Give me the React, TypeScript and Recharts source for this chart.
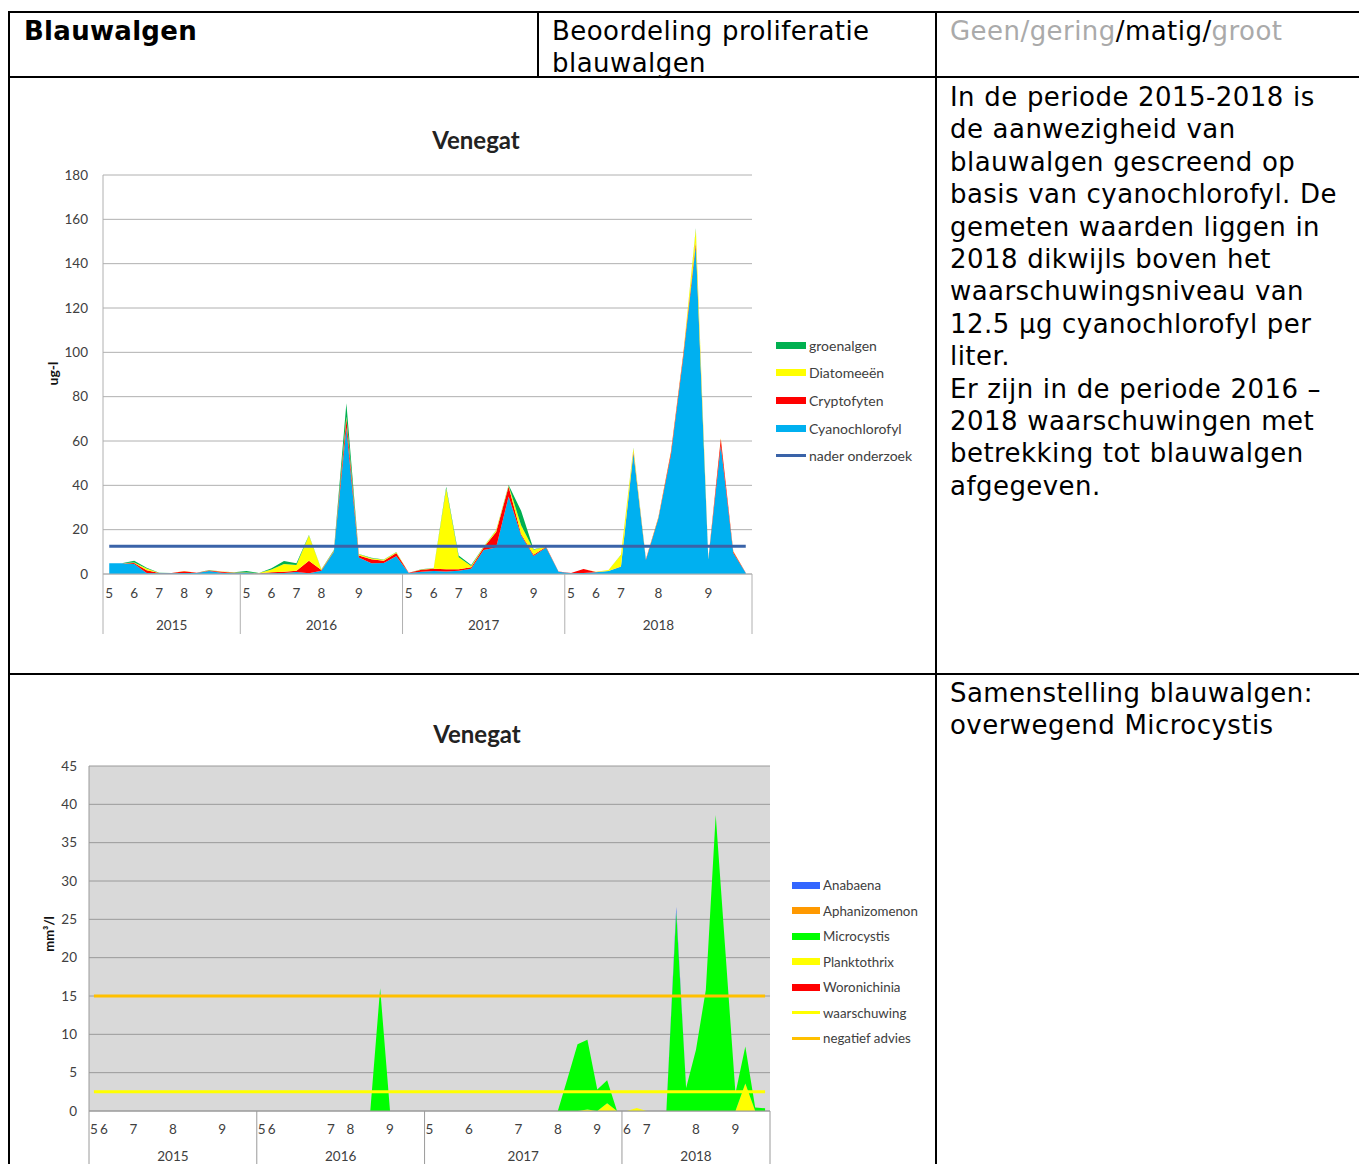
import React from "react";
import { ComposedChart, Area, Line, XAxis, YAxis, CartesianGrid } from "recharts";

// ── chart 1: chlorofyl per algengroep (ug/l) ─────────────────────────────────
const months1 = [
  "5", "", "6", "", "7", "", "8", "", "9", "", "",
  "5", "", "6", "", "7", "", "8", "", "", "9", "", "", "",
  "5", "", "6", "", "7", "", "8", "", "", "", "9", "", "",
  "5", "", "6", "", "7", "", "", "8", "", "", "", "9", "", "", "",
];
const years1 = ["2015", "2016", "2017", "2018"];
const yearCounts1 = [11, 13, 13, 15];

const cyanochlorofyl = [
  4.8, 4.8, 4.5, 0.5, 0.3, 0.3, 0.4, 0.4, 1.3, 0.6, 0.3,
  0.5, 0.2, 0.3, 0.5, 0.9, 0.3, 1.5, 10, 66, 7.4, 4.8, 5, 8,
  0.4, 1.0, 1.4, 1.1, 1.5, 2.4, 10.8, 12, 35, 17.5, 8.1, 12, 1.0,
  0.3, 0.5, 0.8, 1.3, 3.3, 54.4, 6.3, 25, 53.5, 98, 148, 6.5, 58, 9.5, 0.5,
];
const cryptofyten = [
  0, 0, 0.5, 1.2, 0.1, 0.1, 0.8, 0.2, 0.3, 0.4, 0.3,
  0.1, 0.1, 0.5, 0.5, 0.6, 5.7, 0.3, 0.3, 4, 0.9, 1.8, 1.0, 1.5,
  0.2, 0.9, 1.0, 1.0, 0.6, 0.6, 1.2, 7, 4.5, 0.5, 0.6, 0.3, 0.1,
  0.1, 1.7, 0.1, 0.1, 0.1, 0.8, 0.3, 0.5, 1.3, 1.5, 1.5, 0.3, 3, 0.7, 0.1,
];
const diatomeeen = [
  0, 0, 0.2, 0.8, 0.1, 0, 0.1, 0, 0.1, 0.1, 0.1,
  0.1, 0.1, 1.2, 3.5, 2.6, 11.4, 0.2, 0.2, 1, 0.6, 0.5, 0.4, 0.3,
  0, 0.1, 0.2, 36.5, 5.5, 0.6, 0.3, 0.7, 0.3, 4, 2.2, 0.1, 0,
  0, 0, 0.1, 0.4, 5.2, 1.5, 0.2, 0.3, 0.3, 0.5, 6, 0.2, 0.3, 0.2, 0,
];
const groenalgen = [
  0, 0.1, 0.8, 0.3, 0.1, 0, 0, 0, 0.1, 0, 0.1,
  0.7, 0.1, 0.6, 1.4, 0.7, 0.2, 0.1, 0.3, 6, 0.1, 0.2, 0.1, 0.1,
  0, 0.1, 0.1, 0.8, 0.8, 0.5, 0.1, 0.1, 0.3, 6.5, 0.3, 0, 0,
  0, 0, 0, 0, 0.1, 0.3, 0, 0, 0, 0, 0.5, 0, 0, 0, 0,
];
const naderOnderzoek = 12.5;
const yTicks1 = [0, 20, 40, 60, 80, 100, 120, 140, 160, 180];

// ── chart 2: biovolume blauwalgen (mm3/l) ────────────────────────────────────
const months2 = [
  "5", "6", "", "", "7", "", "", "", "8", "", "", "", "", "9", "", "", "",
  "5", "6", "", "", "", "", "", "7", "", "8", "", "", "", "9", "", "", "",
  "5", "", "", "", "6", "", "", "", "", "7", "", "", "", "8", "", "", "", "9", "", "",
  "6", "", "7", "", "", "", "", "8", "", "", "", "9", "", "", "",
];
const years2 = ["2015", "2016", "2017", "2018"];
const yearCounts2 = [17, 17, 20, 15];

const microcystis = [
  0, 0, 0, 0, 0, 0, 0, 0, 0, 0, 0, 0, 0, 0, 0, 0, 0,
  0, 0, 0, 0, 0, 0, 0, 0, 0, 0, 0, 0, 16, 0, 0, 0, 0,
  0, 0, 0, 0, 0, 0, 0, 0, 0, 0, 0, 0, 0, 0, 4.3, 8.7, 9.1, 2.8, 3.0, 0,
  0, 0, 0, 0, 0, 26, 3, 8, 15.8, 38.6, 20.5, 2.3, 4.8, 0.45, 0.35,
];
const planktothrix = [
  0, 0, 0, 0, 0, 0, 0, 0, 0, 0, 0, 0, 0, 0, 0, 0, 0,
  0, 0, 0, 0, 0, 0, 0, 0, 0, 0, 0, 0, 0, 0, 0, 0, 0,
  0, 0, 0, 0, 0, 0, 0, 0, 0, 0, 0, 0, 0, 0, 0, 0, 0.2, 0, 1.0, 0,
  0, 0.4, 0, 0, 0, 0, 0, 0, 0, 0, 0, 0, 3.6, 0, 0,
];
const anabaena = [
  0, 0, 0, 0, 0, 0, 0, 0, 0, 0, 0, 0, 0, 0, 0, 0, 0,
  0, 0, 0, 0, 0, 0, 0, 0, 0, 0, 0, 0, 0, 0, 0, 0, 0,
  0, 0, 0, 0, 0, 0, 0, 0, 0, 0, 0, 0, 0, 0, 0, 0, 0, 0, 0, 0,
  0, 0, 0, 0, 0, 0.6, 0, 0, 0, 0, 0, 0, 0, 0, 0,
];
const aphanizomenon = months2.map(() => 0);
const woronichinia = months2.map(() => 0);
const waarschuwing = 2.5;
const negatiefAdvies = 15;
const yTicks2 = [0, 5, 10, 15, 20, 25, 30, 35, 40, 45];

const rows1 = months1.map((_, i) => ({
  idx: i,
  cyano: cyanochlorofyl[i],
  crypto: cryptofyten[i],
  diatom: diatomeeen[i],
  groen: groenalgen[i],
  nader: naderOnderzoek,
}));

const rows2 = months2.map((_, i) => ({
  idx: i,
  woro: woronichinia[i],
  plank: planktothrix[i],
  micro: microcystis[i],
  aphan: aphanizomenon[i],
  anab: anabaena[i],
  warn: waarschuwing,
  neg: negatiefAdvies,
}));

const CHART_FONT = "Lato, 'Open Sans', sans-serif";
const TEXT_FONT = "'DejaVu Sans', Verdana, sans-serif";
const AXIS_TXT = "#404040";

// plot widths (px) and the step between categories
const PLOT1_W = 649;
const STEP1 = PLOT1_W / months1.length;
const PLOT2_W = 681;
const STEP2 = PLOT2_W / months2.length;

// second category level: year groups with separator lines
function yearTick(labels: string[], counts: number[], step: number, up: number, down: number, dy: number, stroke: string) {
  const starts = counts.map((_, k) => counts.slice(0, k).reduce((a, b) => a + b, 0));
  const total = counts.reduce((a, b) => a + b, 0);
  return (props: any) => {
    const { x, y, payload } = props;
    const i = Number(payload.value);
    const out: React.ReactNode[] = [];
    if (starts.includes(i)) {
      out.push(<line key="s" x1={x - step / 2} x2={x - step / 2} y1={y - up} y2={y + down} stroke={stroke} strokeWidth={1} />);
    }
    if (i === total - 1) {
      out.push(<line key="e" x1={x + step / 2} x2={x + step / 2} y1={y - up} y2={y + down} stroke={stroke} strokeWidth={1} />);
    }
    starts.forEach((s, k) => {
      const mid = s + (counts[k] - 1) / 2;
      if (Math.floor(mid) === i) {
        out.push(
          <text key={"t" + k} x={x + (mid - i) * step} y={y + dy} textAnchor="middle" fontSize={13.5} fill={AXIS_TXT} fontFamily={CHART_FONT}>
            {labels[k]}
          </text>
        );
      }
    });
    return <g>{out}</g>;
  };
}

type LegendItem = { name: string; color: string; line?: boolean };

function ChartLegend({ items, left, top, gap, swatchW, size }: { items: LegendItem[]; left: number; top: number; gap: number; swatchW: number; size: number }) {
  return (
    <div style={{ position: "absolute", left, top, fontFamily: CHART_FONT, fontSize: size, color: AXIS_TXT }}>
      {items.map((it, k) => (
        <div key={it.name} style={{ position: "absolute", top: k * gap - 9, height: 18, display: "flex", alignItems: "center", whiteSpace: "nowrap" }}>
          <span style={{ display: "inline-block", width: swatchW, height: it.line ? 3 : 7, background: it.color, marginRight: 3 }} />
          {it.name}
        </div>
      ))}
    </div>
  );
}

const legend1: LegendItem[] = [
  { name: "groenalgen", color: "#00b050" },
  { name: "Diatomeeën", color: "#ffff00" },
  { name: "Cryptofyten", color: "#ff0000" },
  { name: "Cyanochlorofyl", color: "#00b0f0" },
  { name: "nader onderzoek", color: "#3a63a8", line: true },
];

const legend2: LegendItem[] = [
  { name: "Anabaena", color: "#3366ff" },
  { name: "Aphanizomenon", color: "#ff9900" },
  { name: "Microcystis", color: "#00ff00" },
  { name: "Planktothrix", color: "#ffff00" },
  { name: "Woronichinia", color: "#ff0000" },
  { name: "waarschuwing", color: "#ffff00", line: true },
  { name: "negatief advies", color: "#ffc000", line: true },
];

function Chlorofyl() {
  const grid = "#b0b0b0";
  return (
    <div style={{ position: "absolute", left: 20, top: 100, width: 910, height: 560 }}>
      <div style={{ position: "absolute", left: 356, width: 200, top: 25, textAlign: "center", fontFamily: CHART_FONT, fontWeight: 700, fontSize: 24, color: "#222" }}>
        Venegat
      </div>
      <div style={{ position: "absolute", left: 2, top: 265, width: 60, textAlign: "center", transform: "rotate(-90deg)", fontFamily: CHART_FONT, fontWeight: 700, fontSize: 14, color: "#111" }}>
        ug-l
      </div>
      <ComposedChart width={910} height={560} data={rows1} margin={{ top: 75, right: 178, bottom: 24, left: 0 }}>
        <CartesianGrid vertical={false} stroke={grid} />
        <XAxis
          dataKey="idx"
          scale="point"
          padding={{ left: STEP1 / 2, right: STEP1 / 2 }}
          interval={0}
          tickLine={false}
          axisLine={{ stroke: grid }}
          tickMargin={8}
          height={32}
          tick={{ fontSize: 13.5, fill: AXIS_TXT, fontFamily: CHART_FONT }}
          tickFormatter={(v) => months1[Number(v)]}
        />
        <XAxis
          xAxisId="yr"
          dataKey="idx"
          scale="point"
          padding={{ left: STEP1 / 2, right: STEP1 / 2 }}
          interval={0}
          tickLine={false}
          axisLine={false}
          tickSize={0}
          tickMargin={0}
          height={30}
          tick={yearTick(years1, yearCounts1, STEP1, 32, 28, 24, grid)}
        />
        <YAxis
          domain={[0, 180]}
          ticks={yTicks1}
          interval={0}
          width={83}
          tickLine={false}
          axisLine={{ stroke: grid }}
          tickMargin={9}
          tick={{ fontSize: 13.5, fill: AXIS_TXT, fontFamily: CHART_FONT }}
        />
        <Area type="linear" dataKey="cyano" stackId="s" stroke="none" fill="#00b0f0" fillOpacity={1} isAnimationActive={false} />
        <Area type="linear" dataKey="crypto" stackId="s" stroke="none" fill="#ff0000" fillOpacity={1} isAnimationActive={false} />
        <Area type="linear" dataKey="diatom" stackId="s" stroke="none" fill="#ffff00" fillOpacity={1} isAnimationActive={false} />
        <Area type="linear" dataKey="groen" stackId="s" stroke="none" fill="#00b050" fillOpacity={1} isAnimationActive={false} />
        <Line type="linear" dataKey="nader" stroke="#3a63a8" strokeWidth={3} dot={false} isAnimationActive={false} />
      </ComposedChart>
      <ChartLegend items={legend1} left={756} top={245} gap={27.7} swatchW={30} size={14} />
    </div>
  );
}

function Biovolume() {
  const grid = "#9a9a9a";
  return (
    <div style={{ position: "absolute", left: 20, top: 700, width: 910, height: 464, overflow: "hidden" }}>
      <div style={{ position: "absolute", left: 357, width: 200, top: 19, textAlign: "center", fontFamily: CHART_FONT, fontWeight: 700, fontSize: 24, color: "#222" }}>
        Venegat
      </div>
      <div style={{ position: "absolute", left: -1, top: 226, width: 60, textAlign: "center", transform: "rotate(-90deg)", fontFamily: CHART_FONT, fontWeight: 700, fontSize: 13, color: "#111" }}>
        mm³/l
      </div>
      <ComposedChart width={910} height={464} data={rows2} margin={{ top: 66, right: 160, bottom: 0, left: 0 }}>
        <CartesianGrid vertical={false} stroke={grid} fill="#d9d9d9" />
        <XAxis
          dataKey="idx"
          scale="point"
          padding={{ left: STEP2 / 2, right: STEP2 / 2 }}
          interval={0}
          tickLine={false}
          axisLine={{ stroke: grid }}
          tickMargin={7}
          height={28}
          tick={{ fontSize: 13.5, fill: AXIS_TXT, fontFamily: CHART_FONT }}
          tickFormatter={(v) => months2[Number(v)]}
        />
        <XAxis
          xAxisId="yr"
          dataKey="idx"
          scale="point"
          padding={{ left: STEP2 / 2, right: STEP2 / 2 }}
          interval={0}
          tickLine={false}
          axisLine={false}
          tickSize={0}
          tickMargin={0}
          height={25}
          tick={yearTick(years2, yearCounts2, STEP2, 28, 40, 22, grid)}
        />
        <YAxis
          domain={[0, 45]}
          ticks={yTicks2}
          interval={0}
          width={69}
          tickLine={false}
          axisLine={{ stroke: grid }}
          tickMargin={6}
          tick={{ fontSize: 13.5, fill: AXIS_TXT, fontFamily: CHART_FONT }}
        />
        <Area type="linear" dataKey="woro" stackId="s" stroke="none" fill="#ff0000" fillOpacity={1} isAnimationActive={false} />
        <Area type="linear" dataKey="plank" stackId="s" stroke="none" fill="#ffff00" fillOpacity={1} isAnimationActive={false} />
        <Area type="linear" dataKey="micro" stackId="s" stroke="none" fill="#00ff00" fillOpacity={1} isAnimationActive={false} />
        <Area type="linear" dataKey="aphan" stackId="s" stroke="none" fill="#ff9900" fillOpacity={1} isAnimationActive={false} />
        <Area type="linear" dataKey="anab" stackId="s" stroke="none" fill="#3366ff" fillOpacity={1} isAnimationActive={false} />
        <Line type="linear" dataKey="warn" stroke="#ffff00" strokeWidth={3} dot={false} isAnimationActive={false} />
        <Line type="linear" dataKey="neg" stroke="#ffc000" strokeWidth={3} dot={false} isAnimationActive={false} />
      </ComposedChart>
      <ChartLegend items={legend2} left={772} top={185} gap={25.5} swatchW={28} size={13.3} />
    </div>
  );
}

const uitleg = [
  "In de periode 2015-2018 is",
  "de aanwezigheid van",
  "blauwalgen gescreend op",
  "basis van cyanochlorofyl. De",
  "gemeten waarden liggen in",
  "2018 dikwijls boven het",
  "waarschuwingsniveau van",
  "12.5 µg cyanochlorofyl per",
  "liter.",
  "Er zijn in de periode 2016 –",
  "2018 waarschuwingen met",
  "betrekking tot blauwalgen",
  "afgegeven.",
];
const samenstelling = ["Samenstelling blauwalgen:", "overwegend Microcystis"];

const textStyle: React.CSSProperties = {
  position: "absolute",
  fontFamily: TEXT_FONT,
  fontSize: 26,
  lineHeight: "32.4px",
  letterSpacing: "0.45px",
  wordSpacing: "0.5px",
  color: "#000",
  whiteSpace: "nowrap",
};

function Rule({ l, t, w, h }: { l: number; t: number; w: number; h: number }) {
  return <div style={{ position: "absolute", left: l, top: t, width: w, height: h, background: "#000" }} />;
}

function Lines({ lines, left, top }: { lines: string[]; left: number; top: number }) {
  return (
    <div style={{ ...textStyle, left, top }}>
      {lines.map((s) => (
        <div key={s}>{s}</div>
      ))}
    </div>
  );
}

export default function App() {
  const grey = "#aaaaaa";
  return (
    <div style={{ position: "absolute", left: 0, top: 0, width: 1359, height: 1164, overflow: "hidden", background: "#fff" }}>
      <Rule l={8} t={11} w={1351} h={2} />
      <Rule l={8} t={76} w={1351} h={2} />
      <Rule l={8} t={673} w={1351} h={2} />
      <Rule l={8} t={11} w={2} h={1153} />
      <Rule l={537} t={11} w={2} h={66} />
      <Rule l={935} t={11} w={2} h={1153} />

      <div style={{ ...textStyle, left: 24, top: 15, fontWeight: 700, letterSpacing: "0.3px" }}>Blauwalgen</div>
      <Lines lines={["Beoordeling proliferatie", "blauwalgen"]} left={552} top={15} />
      <div style={{ ...textStyle, left: 950, top: 15 }}>
        <span style={{ color: grey }}>Geen/gering</span>
        <span style={{ color: "#000" }}>/matig/</span>
        <span style={{ color: grey }}>groot</span>
      </div>
      <Lines lines={uitleg} left={950} top={81} />
      <Lines lines={samenstelling} left={950} top={677} />

      <Chlorofyl />
      <Biovolume />
    </div>
  );
}
